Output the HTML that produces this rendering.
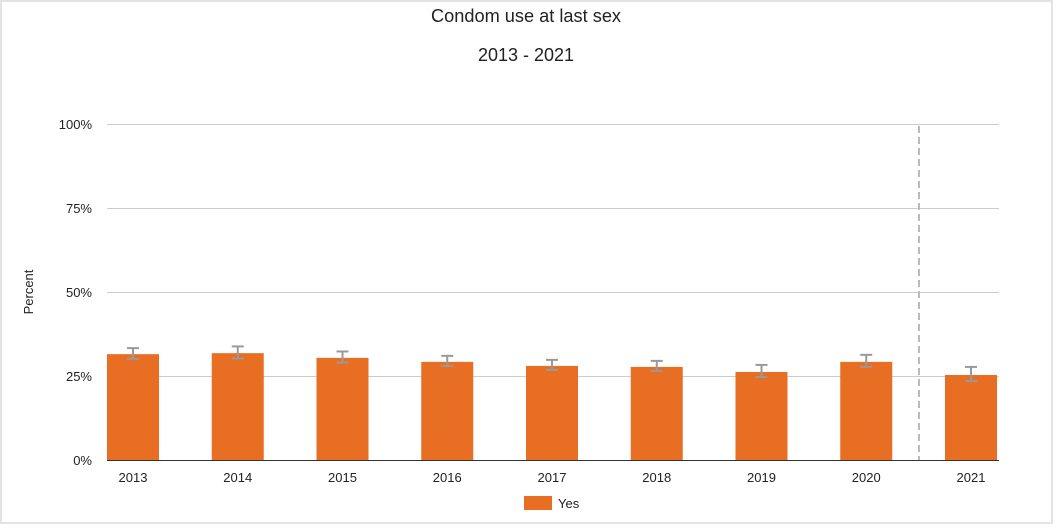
<!DOCTYPE html>
<html><head><meta charset="utf-8"><style>
html,body{margin:0;padding:0;background:#fff;}
svg{display:block;font-family:"Liberation Sans",Arial,sans-serif;}
</style></head><body>
<svg width="1056" height="528" viewBox="0 0 1056 528">
<rect x="1" y="1" width="1051" height="522" fill="#fff" stroke="#e3e3e3" stroke-width="2"/>
<text x="526" y="22" text-anchor="middle" font-size="18.2" fill="#222">Condom use at last sex</text>
<text x="526" y="61" text-anchor="middle" font-size="18" fill="#222">2013 - 2021</text>
<text transform="translate(33,292) rotate(-90)" text-anchor="middle" font-size="13" fill="#222">Percent</text>
<g id="grid"></g>
<g id="bars"></g>
<g id="errs"></g>
<g id="xlabels"></g>
<line x1="919" y1="126" x2="919" y2="460" stroke="#bbb" stroke-width="2" stroke-dasharray="7,4"/>
<line x1="107" y1="460.5" x2="999" y2="460.5" stroke="#333" stroke-width="1"/>
<rect x="524" y="496" width="28" height="14" fill="#e86e24"/>
<text x="558" y="508" font-size="13" fill="#222">Yes</text>
</svg>
<script>
const categories=["2013","2014","2015","2016","2017","2018","2019","2020","2021"];
const values=[31.5,31.8,30.4,29.2,28.0,27.7,26.2,29.2,25.3];
const lower=[30.1,30.2,29.0,28.0,26.8,26.5,24.7,27.7,23.5];
const upper=[33.3,33.8,32.3,31.0,29.8,29.5,28.3,31.3,27.7];
const ticks=[0,25,50,75,100];
const NS="http://www.w3.org/2000/svg";
const y0=460,yTop=124,xL=107,xR=999;
function y(v){return y0-(v/100)*(y0-yTop);}
function xc(i){return 133+i*104.75;}
function mk(tag,attrs,parent){const e=document.createElementNS(NS,tag);for(const k in attrs)e.setAttribute(k,attrs[k]);document.getElementById(parent).appendChild(e);return e;}
ticks.forEach(t=>{
  if(t>0){const l=mk("line",{x1:xL,x2:xR,y1:y(t)+0.5,y2:y(t)+0.5,stroke:"#ccc","stroke-width":1},"grid");
  
  }
  const tx=mk("text",{x:92,y:y(t)+5,"text-anchor":"end","font-size":13,fill:"#222"},"grid");
  tx.textContent=t+"%";
  
  
});
categories.forEach((c,i)=>{
  const cx=xc(i);
  const b=mk("rect",{x:cx-26,y:y(values[i]),width:52,height:y0-y(values[i]),fill:"#e86e24"},"bars");
  
  
  const g=mk("g",{stroke:"#999","stroke-width":2},"errs");
  
  
  [[cx,y(lower[i]),cx,y(upper[i])],[cx-6,y(lower[i]),cx+6,y(lower[i])],[cx-6,y(upper[i]),cx+6,y(upper[i])]].forEach(p=>{
    const l=document.createElementNS(NS,"line");
    l.setAttribute("x1",p[0]);l.setAttribute("y1",p[1]);l.setAttribute("x2",p[2]);l.setAttribute("y2",p[3]);g.appendChild(l);
  });
  const t=mk("text",{x:cx,y:482,"text-anchor":"middle","font-size":13,fill:"#222"},"xlabels");
  t.textContent=c;
  
  
});
</script>
</body></html>
